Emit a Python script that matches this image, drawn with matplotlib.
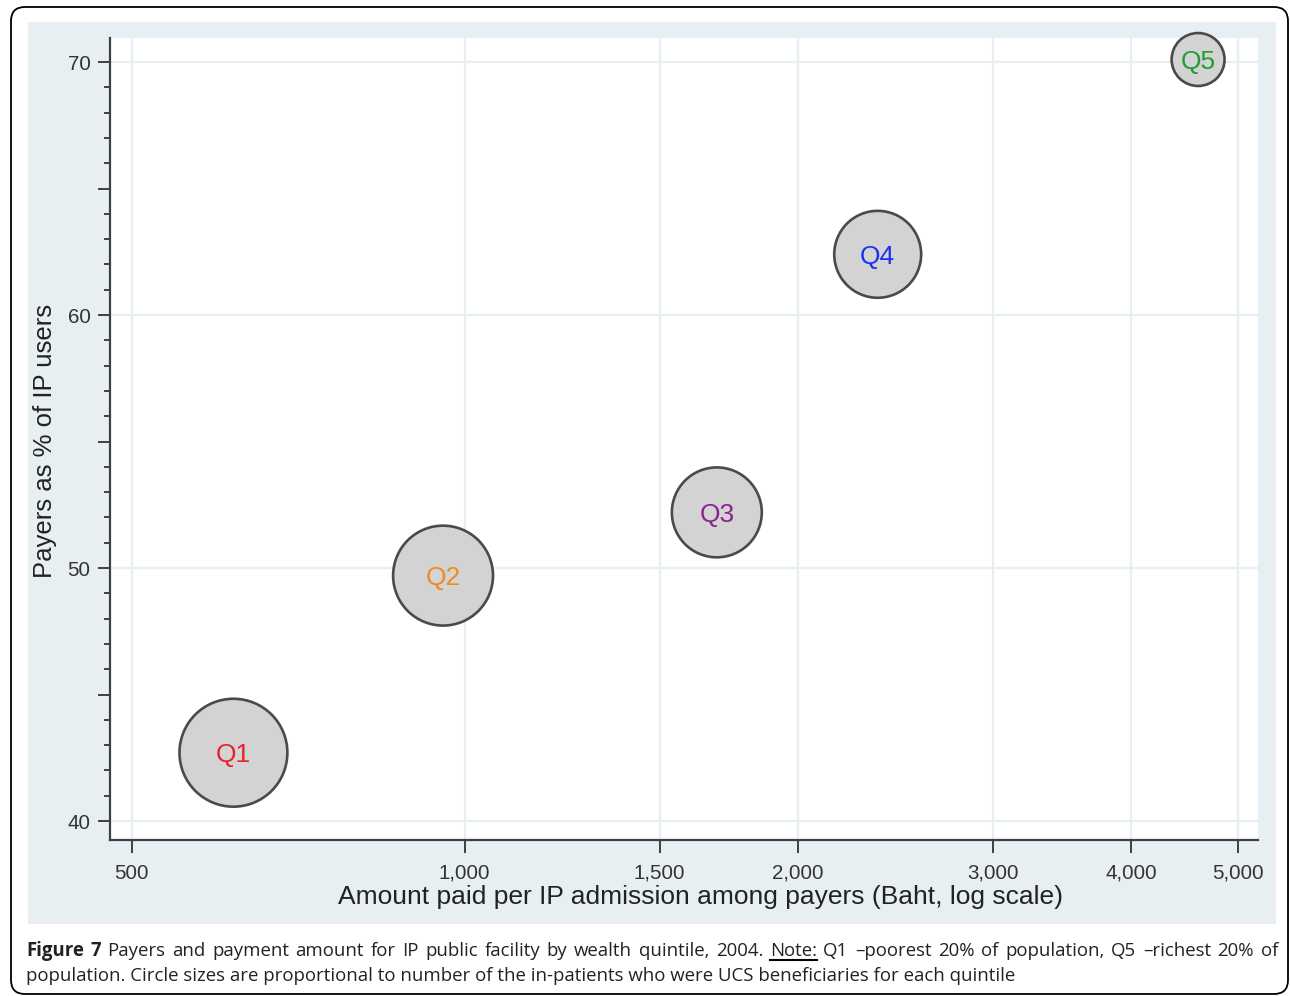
import matplotlib
matplotlib.use("Agg")
import matplotlib.pyplot as plt
from matplotlib.patches import Rectangle, FancyBboxPatch
from matplotlib.transforms import IdentityTransform
from matplotlib.lines import Line2D

# Quintile data
quintiles = ["Q1", "Q2", "Q3", "Q4", "Q5"]
amount_paid = [618, 956, 1690, 2362, 4601]          # Baht per IP admission among payers
payers_pct = [42.7, 49.7, 52.2, 62.4, 70.1]         # payers as % of IP users
ucs_inpatients = [2916, 2500, 2025, 1892, 702]      # relative number of UCS in-patients
label_colors = ["#e8232d", "#f28a24", "#90208f", "#1f2ff0", "#239a32"]

x_ticks = [500, 1000, 1500, 2000, 3000, 4000, 5000]
x_tick_labels = ["500", "1,000", "1,500", "2,000", "3,000", "4,000", "5,000"]
y_ticks = [40, 50, 60, 70]
y_tick_labels = ["40", "50", "60", "70"]

x_title = "Amount paid per IP admission among payers (Baht, log scale)"
y_title = "Payers as % of IP users"
caption_head = ["Figure", "7"]
caption_body1 = "Payers and payment amount for IP public facility by wealth quintile, 2004."
caption_note = "Note:"
caption_body2 = "Q1 \u2013poorest 20% of population, Q5 \u2013richest 20% of"
caption_line2 = ("population. Circle sizes are proportional to number of the in-patients "
                 "who were UCS beneficiaries for each quintile")

W, H = 1290, 996
fig = plt.figure(figsize=(W / 100, H / 100), dpi=100, facecolor="white")
ident = IdentityTransform()

# outer rounded frame and graph region
fig.add_artist(FancyBboxPatch((11, H - 994), 1277, 987,
                              boxstyle="round,pad=0,rounding_size=14",
                              transform=ident, facecolor="white",
                              edgecolor="black", linewidth=1.3, zorder=-3))
fig.add_artist(Rectangle((28, H - 924), 1248, 902, transform=ident,
                         facecolor="#e8eff2", edgecolor="none", zorder=-2))

ax = fig.add_axes([110 / W, 1 - 840 / H, (1258 - 110) / W, (840 - 38) / H])
ax.set_facecolor("white")
ax.set_xscale("log")
ax.set_xlim(478, 5212)
ax.set_ylim(39.25, 70.95)

grid_c = "#e8eff3"
for v in x_ticks:
    ax.axvline(v, color=grid_c, lw=1.6, zorder=1)
for v in y_ticks:
    ax.axhline(v, color=grid_c, lw=1.6, zorder=1)

ax.scatter(amount_paid, payers_pct, s=[w * 2.07 for w in ucs_inpatients],
           c="#d3d3d3", edgecolors="#4a4a4a", linewidths=1.9, zorder=3,
           clip_on=False)
for x, y, q, c in zip(amount_paid, payers_pct, quintiles, label_colors):
    ax.text(x, y, q, color=c, fontsize=19, ha="center", va="center_baseline",
            family="Liberation Sans", zorder=4)

for s in ["top", "right"]:
    ax.spines[s].set_visible(False)
axis_c = "#404040"
for s in ["left", "bottom"]:
    ax.spines[s].set_color(axis_c)
    ax.spines[s].set_linewidth(1.6)

ax.set_xticks(x_ticks)
ax.set_xticklabels(x_tick_labels)
ax.xaxis.set_minor_locator(matplotlib.ticker.NullLocator())
y_major = list(range(40, 71, 5))
ax.set_yticks(y_major)
ax.set_yticklabels([y_tick_labels[y_ticks.index(v)] if v in y_ticks else "" for v in y_major])
ax.set_yticks([v for v in range(40, 71) if v % 5], minor=True)

ax.tick_params(axis="x", which="major", direction="out", length=9, width=1.4,
               color=axis_c, pad=8, labelsize=14.8, labelcolor="#333333")
ax.tick_params(axis="y", which="major", direction="out", length=9, width=1.4,
               color=axis_c, pad=5, labelsize=14.8, labelcolor="#333333")
ax.tick_params(axis="y", which="minor", direction="out", length=4.5, width=1.4,
               color=axis_c)
for lab in ax.get_xticklabels() + ax.get_yticklabels():
    lab.set_family("Liberation Sans")

fig.text(700 / W, 1 - 897 / H, x_title, ha="center", va="center", fontsize=19,
         family="Liberation Sans", color="#222222")
fig.text(45 / W, 1 - 441 / H, y_title, ha="center", va="center", rotation=90,
         fontsize=18.5, family="Liberation Sans", color="#222222")

# caption, first line justified between the margins
cap_font = "Open Sans"
cap_size = 13.4
left, right = 26, 1278
base1, base2 = H - 956, H - 981
words = [(w, "bold", False) for w in caption_head]
words += [(w, "normal", False) for w in caption_body1.split()]
words += [(caption_note, "normal", True)]
words += [(w, "normal", False) for w in caption_body2.split()]

renderer = fig.canvas.get_renderer()
items = []
for w, weight, ul in words:
    t = fig.text(0, base1, w, transform=ident, ha="left", va="baseline",
                 fontsize=cap_size, family=cap_font, weight=weight, color="#222222")
    items.append((t, t.get_window_extent(renderer).width, ul))
gap = (right - left - sum(wd for _, wd, _ in items)) / (len(items) - 1)
x = left
for t, wd, ul in items:
    t.set_position((x, base1))
    if ul:
        fig.add_artist(Line2D([x, x + wd], [base1 - 4, base1 - 4], transform=ident,
                              color="black", lw=1.5))
    x += wd + gap

fig.text(left, base2, caption_line2, transform=ident, ha="left", va="baseline",
         fontsize=cap_size, family=cap_font, color="#222222")

fig.savefig("out.png", dpi=100, facecolor="white")
